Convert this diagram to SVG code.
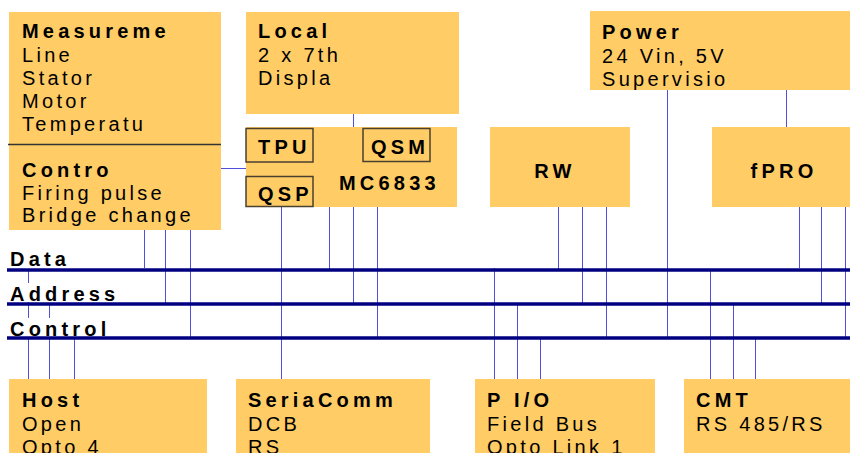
<svg xmlns="http://www.w3.org/2000/svg" width="850" height="453" viewBox="0 0 850 453">
<style>
.box{fill:#FFCC66}
.sub{fill:#FFCC66;stroke:#4a4030;stroke-width:1.5}
.b{font-family:"Liberation Sans",Arial,sans-serif;font-size:20px;font-weight:bold;letter-spacing:4.2px;fill:#000}
.r{font-family:"Liberation Sans",Arial,sans-serif;font-size:20px;letter-spacing:3.3px;fill:#000}
.w{stroke:#5050dc;stroke-width:1;fill:none}
.bus{stroke:#000080;stroke-width:3.5}
</style>
<rect width="850" height="453" fill="#fff"/>
<g id="connectors">
<path class="w" d="M144.5 230V268M165.5 230V304M190.5 230V338M221 168.5H246M353.5 114V127M281.5 206V379M329.5 206V270M353.5 206V304M377.5 206V338M558.5 206V270M582.5 206V304M606.5 206V338M667.5 90V338M786.5 90V127M799.5 206V268M821.5 206V304M845.5 206V338M28.5 270V379M49.5 304V379M74.5 338V379M494.5 268V379M517.5 304V379M540.5 338V379M710.5 270V379M733.5 304V379M755.5 338V379"/>
</g>
<g id="bus">
<rect x="8" y="283" width="110" height="19" fill="#fff"/>
<rect x="8" y="318" width="100" height="19" fill="#fff"/>
<text class="b" x="10" y="266">Data</text>
<text class="b" x="10" y="301">Address</text>
<text class="b" x="10" y="336">Control</text>
<line class="bus" x1="7" y1="270" x2="850" y2="270"/>
<line class="bus" x1="7" y1="304" x2="850" y2="304"/>
<line class="bus" x1="7" y1="338" x2="850" y2="338"/>
</g>
<g id="measurement">
<rect class="box" x="9" y="12" width="212" height="218"/>
<line x1="8" y1="144.5" x2="221" y2="144.5" stroke="#333" stroke-width="1.3"/>
<text class="b" x="22" y="38">Measureme</text>
<text class="r" x="22" y="62">Line</text>
<text class="r" x="22" y="85">Stator</text>
<text class="r" x="22" y="108">Motor</text>
<text class="r" x="22" y="131">Temperatu</text>
<text class="b" x="22" y="177">Contro</text>
<text class="r" x="22" y="200">Firing pulse</text>
<text class="r" x="22" y="222">Bridge change</text>
</g>
<g id="local">
<rect class="box" x="246" y="12" width="213" height="102"/>
<text class="b" x="258" y="38">Local</text>
<text class="r" x="258" y="62">2 x 7th</text>
<text class="r" x="258" y="85">Displa</text>
</g>
<g id="mc6833">
<rect class="box" x="246" y="127" width="211" height="80"/>
<text class="b" x="339" y="190">MC6833</text>
</g>
<g id="tpu">
<rect class="sub" x="246" y="128.5" width="67" height="33.5"/>
<text class="b" x="258" y="154">TPU</text>
</g>
<g id="qsm">
<rect class="sub" x="363" y="128.5" width="67" height="33"/>
<text class="b" x="371" y="154">QSM</text>
</g>
<g id="qsp">
<rect class="sub" x="246" y="176.5" width="67" height="30"/>
<text class="b" x="258" y="201">QSP</text>
</g>
<g id="power">
<rect class="box" x="590" y="11" width="260" height="79"/>
<text class="b" x="602" y="39">Power</text>
<text class="r" x="602" y="63">24 Vin, 5V</text>
<text class="r" x="602" y="86">Supervisio</text>
</g>
<g id="rw">
<rect class="box" x="490" y="127" width="140" height="80"/>
<text class="b" x="555" y="178" text-anchor="middle">RW</text>
</g>
<g id="fpro">
<rect class="box" x="712" y="127" width="138" height="80"/>
<text class="b" x="784" y="178" text-anchor="middle">fPRO</text>
</g>
<g id="host">
<rect class="box" x="9" y="379" width="198" height="74"/>
<text class="b" x="22" y="407">Host</text>
<text class="r" x="22" y="431">Open</text>
<text class="r" x="22" y="454">Opto 4</text>
</g>
<g id="serialcomm">
<rect class="box" x="236" y="379" width="194" height="74"/>
<text class="b" x="248" y="407">SeriaComm</text>
<text class="r" x="248" y="431">DCB</text>
<text class="r" x="248" y="454">RS</text>
</g>
<g id="pio">
<rect class="box" x="475" y="379" width="180" height="74"/>
<text class="b" x="487" y="407">P I/O</text>
<text class="r" x="487" y="431">Field Bus</text>
<text class="r" x="487" y="454">Opto Link 1</text>
</g>
<g id="cmt">
<rect class="box" x="684" y="379" width="166" height="74"/>
<text class="b" x="696" y="407">CMT</text>
<text class="r" x="696" y="431">RS 485/RS</text>
</g>
</svg>
